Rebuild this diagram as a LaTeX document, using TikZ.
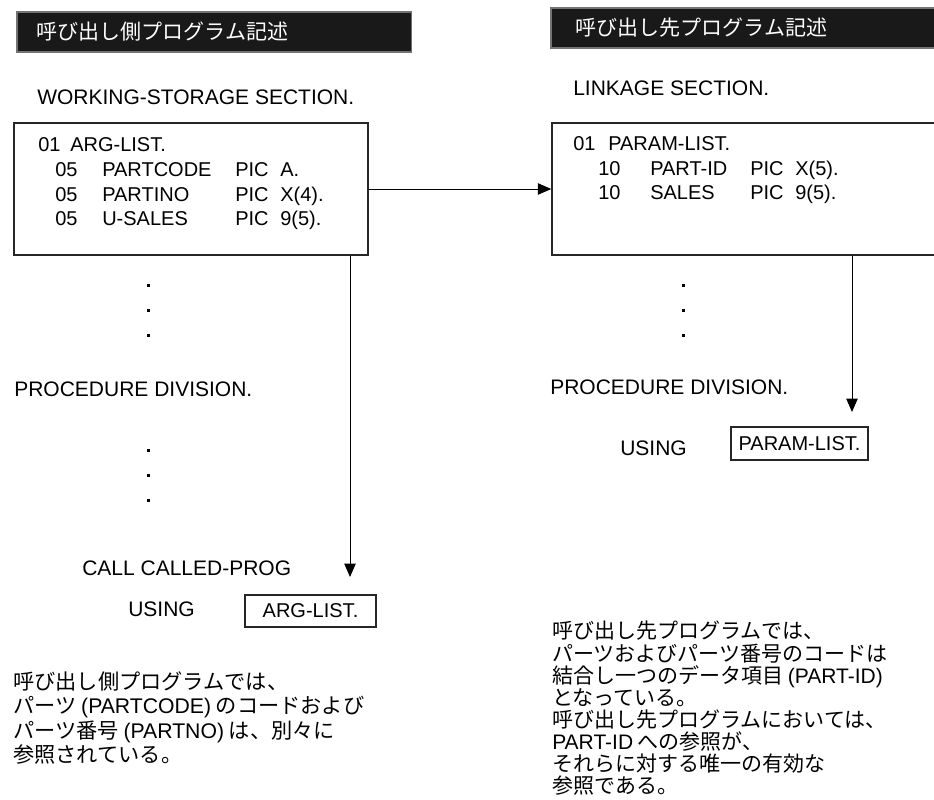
\documentclass[tikz,border=0pt]{standalone}
\usepackage{fontspec}
\setmainfont{Liberation Sans}
\newfontfamily\jpfont{Noto Sans CJK JP}
\usetikzlibrary{positioning,arrows.meta}

\begin{document}
\begin{tikzpicture}[x=0.75pt,y=-0.75pt,
    hdr/.style = {fill=black!90, draw=black!55, line width=1.2pt, text=white,
                  minimum height=30pt, anchor=north west, align=left,
                  font=\jpfont\fontsize{15.75pt}{19pt}\selectfont},
    srcbox/.style = {draw=black!85, line width=1.1pt},
    lbltext/.style = {inner sep=0pt, anchor=base west, font=\fontsize{15.75pt}{19pt}\selectfont},
    codetext/.style = {inner sep=0pt, anchor=base west, font=\fontsize{15pt}{18pt}\selectfont},
    notetext/.style = {inner sep=0pt, anchor=north west, align=left},
    arr/.style = {-{Triangle[length=10pt,width=8.5pt]}, line width=0.7pt}]
     \useasboundingbox (0,0) rectangle (934,799);
     \clip (0,0) rectangle (934,799);

     % headers
     \node[hdr, text width=266pt, inner xsep=15pt] (lhdr) at (16,11) {呼び出し側プログラム記述};
     \node[hdr, text width=270pt, inner xsep=18.75pt] (rhdr) at (550,7) {呼び出し先プログラム記述};

     \node[lbltext] (wss) at (37,104.5) {WORKING-STORAGE SECTION.};
     \node[lbltext] (lks) at (573,95.5) {LINKAGE SECTION.};

     % data boxes
     \node[srcbox, minimum width=265.5pt, minimum height=99pt] (lbox) at (191,189) {};
     \node[srcbox, minimum width=315pt, minimum height=99pt] (rbox) at (762,189) {};

     \node[codetext] (l01) at (38,151) {01};
     \node[codetext] (largs) at (70,151) {ARG-LIST.};
     \node[codetext] (l05a) at (55,176) {05};
     \node[codetext] (lpc) at (102,176) {PARTCODE};
     \node[codetext] (lpica) at (235,176) {PIC};
     \node[codetext] (lva) at (280,176) {A.};
     \node[codetext] (l05b) at (55,201) {05};
     \node[codetext] (lpn) at (102,201) {PARTINO};
     \node[codetext] (lpicb) at (235,201) {PIC};
     \node[codetext] (lvb) at (280,201) {X(4).};
     \node[codetext] (l05c) at (55,225) {05};
     \node[codetext] (lus) at (102,225) {U-SALES};
     \node[codetext] (lpicc) at (235,225) {PIC};
     \node[codetext] (lvc) at (280,225) {9(5).};

     \node[codetext] (r01) at (573,150) {01};
     \node[codetext] (rpar) at (608,150) {PARAM-LIST.};
     \node[codetext] (r10a) at (598,175) {10};
     \node[codetext] (rpid) at (650,175) {PART-ID};
     \node[codetext] (rpica) at (750,175) {PIC};
     \node[codetext] (rva) at (795,175) {X(5).};
     \node[codetext] (r10b) at (598,199) {10};
     \node[codetext] (rsal) at (650,199) {SALES};
     \node[codetext] (rpicb) at (750,199) {PIC};
     \node[codetext] (rvb) at (795,199) {9(5).};

     % omitted lines
     \foreach \y in {285,310,335,450,475,500}
         \fill (146.5,\y-1.5) rectangle ++(3,3);
     \foreach \y in {285,310,335}
         \fill (681.5,\y-1.5) rectangle ++(3,3);

     \node[lbltext] (lproc) at (14,396.5) {PROCEDURE DIVISION.};
     \node[lbltext] (rproc) at (550,394.5) {PROCEDURE DIVISION.};
     \node[lbltext] (call) at (82,575.5) {CALL CALLED-PROG};
     \node[lbltext] (lusing) at (128,616.5) {USING};
     \node[lbltext] (rusing) at (620,455.5) {USING};
     \node[srcbox, minimum width=98pt, minimum height=24pt, font=\fontsize{15pt}{18pt}\selectfont] (largbox) at (310.5,611) {ARG-LIST.};
     \node[srcbox, minimum width=103pt, minimum height=25pt, font=\fontsize{15pt}{18pt}\selectfont] (rparbox) at (799.5,443.5) {PARAM-LIST.};

     % connectors
     \coordinate (ltip) at (350,577);
     \coordinate (rtip) at (852,412);
     \draw[arr] (lbox.east) -- (rbox.west);
     \draw[arr] (lbox.south -| ltip) -- (ltip);
     \draw[arr] (rbox.south -| rtip) -- (rtip);

     % notes
     \node[notetext, font=\jpfont\fontsize{15.9pt}{18.2pt}\selectfont] (lnote) at (13,671.5)
         {呼び出し側プログラムでは、\\
          パーツ {\rmfamily (PARTCODE)} のコードおよび\\
          パーツ番号 {\rmfamily (PARTNO)} は、別々に\\
          参照されている。};
     \node[notetext, font=\jpfont\fontsize{15.75pt}{16.6pt}\selectfont] (rnote) at (552,621)
         {呼び出し先プログラムでは、\\
          パーツおよびパーツ番号のコードは\\
          結合し一つのデータ項目 {\rmfamily (PART-ID)}\\
          となっている。\\
          呼び出し先プログラムにおいては、\\
          {\rmfamily PART-ID} への参照が、\\
          それらに対する唯一の有効な\\
          参照である。};
\end{tikzpicture}
\end{document}
